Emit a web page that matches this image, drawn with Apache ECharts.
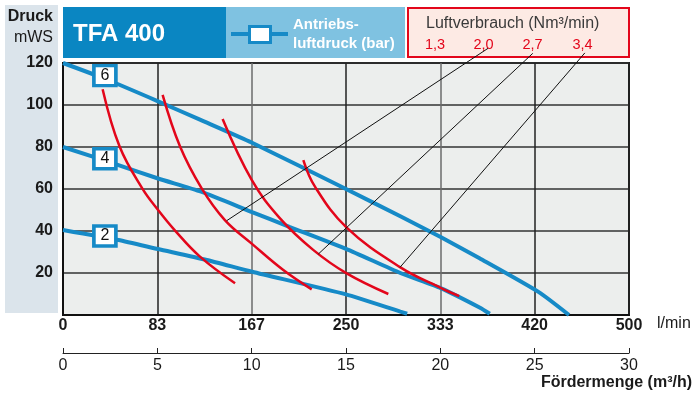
<!DOCTYPE html>
<html>
<head>
<meta charset="utf-8">
<script src="https://cdn.jsdelivr.net/npm/echarts@6/dist/echarts.min.js"></script>
<style>
html,body{margin:0;padding:0;background:#fff;}
#c{width:694px;height:394px;}
</style>
</head>
<body>
<div id="c"></div>
<script>
// ---- data ----
const flowTickLabels = ['0', '83', '167', '250', '333', '420', '500'];
const flowMax = 500;
const m3hMax = 30;
const pressureMax = 120;

// pump curves (l/min, mWS) by drive air pressure
const bar6 = [[0,120],[37,112.5],[83,102],[121,93],[167,82],[250,60],[298,47],[334,37],[368,27],[420,11],[447,0]];
const bar4 = [[0,80],[49,71.4],[84,65],[122,58.7],[167,49],[200,42],[250,31.5],[298,20],[334,12.7],[368,3.6],[377,0.6]];
const bar2 = [[0,40.5],[49,35.7],[84,31.4],[127,26.2],[167,20.6],[250,9.8],[298,1.6],[304,0.6]];

// air consumption curves (Nm3/min)
const air13 = [[35,107.5],[50,80.2],[70,60.3],[84,50],[99,40.2],[121,27.8],[152,15.1]];
const air20 = [[88,104.8],[103.4,80.2],[122.5,60.3],[143,45.2],[166.7,34],[194.6,21.4],[219.7,12.2]];
const air27 = [[141,93.3],[166.7,64.3],[191.7,46],[221,31],[250.6,19.8],[287.4,10]];
const air34 = [[212.3,73.8],[222.6,61.1],[250.6,41.6],[297.7,22.8],[334.5,12.7],[350,9]];

// leader lines from curves to the labels in the header
const lead20 = [[144.6,44.9],[375.5,127]];
const lead27 = [[225.5,29],[415,124.6]];
const lead34 = [[297.7,22.7],[461,124.8]];

// pressure label boxes
const barLabels = [[37,114,'6'],[37,74.4,'4'],[37,37.6,'2']];

const airLabels = ['1,3','2,0','2,7','3,4'];

// ---- chart ----
const BLUE = '#168ac7';
const RED = '#e3061b';
const FONT = '"Liberation Sans", Arial, sans-serif';
const chart = echarts.init(document.getElementById('c'), null, {renderer:'canvas'});

const airLabelX = [435, 483.5, 532.5, 582.5];

const option = {
  animation: false,
  backgroundColor: '#ffffff',
  grid: {
    left: 63, right: 65, top: 63, bottom: 79,
    show: true, backgroundColor: '#eceeed', borderColor: '#1a1a1a', borderWidth: 2
  },
  xAxis: [{
    type: 'value', min: 0, max: flowMax, interval: flowMax / 6, position: 'bottom',
    axisLine: {show: true, onZero: false, lineStyle: {color: '#111', width: 2}},
    axisTick: {show: false},
    axisLabel: {
      fontFamily: FONT, fontWeight: 'bold', fontSize: 16, color: '#1a1a1a', margin: 3,
      formatter: v => flowTickLabels[Math.round(v / (flowMax / 6))]
    },
    splitLine: {show: true, lineStyle: {color: ['#222','#222','#6b6b6b','#222','#6b6b6b','#222','#222'], width: 1.5}}
  }, {
    type: 'value', min: 0, max: m3hMax, interval: 5, position: 'bottom', offset: 38,
    axisLine: {show: true, onZero: false, lineStyle: {color: '#222', width: 1}},
    axisTick: {show: true, inside: true, length: 5, lineStyle: {color: '#222', width: 1}},
    axisLabel: {fontFamily: FONT, fontSize: 16, color: '#1a1a1a', margin: 5},
    splitLine: {show: false}
  }],
  yAxis: {
    type: 'value', min: 0, max: pressureMax, interval: 20,
    axisLine: {show: true, lineStyle: {color: '#111', width: 2}},
    axisTick: {show: false},
    axisLabel: {
      fontFamily: FONT, fontWeight: 'bold', fontSize: 16, color: '#1a1a1a', margin: 10,
      formatter: v => v === 0 ? '' : String(v)
    },
    splitLine: {show: true, lineStyle: {color: '#333', width: 1.5}}
  },
  graphic: [
    {type: 'rect', z: 0, shape: {x: 5, y: 5, width: 53, height: 308}, style: {fill: '#dbe4eb'}},
    {type: 'text', z: 1, style: {x: 53, y: 17, text: 'Druck', align: 'right', verticalAlign: 'middle',
      font: 'bold 16px ' + FONT, fill: '#1a1a1a'}},
    {type: 'text', z: 1, style: {x: 53, y: 38, text: 'mWS', align: 'right', verticalAlign: 'middle',
      font: '16px ' + FONT, fill: '#1a1a1a'}},
    {type: 'rect', z: 0, shape: {x: 63, y: 7, width: 163, height: 51}, style: {fill: '#0a86c2'}},
    {type: 'rect', z: 0, shape: {x: 226, y: 7, width: 179, height: 51}, style: {fill: '#7fc2e1'}},
    {type: 'text', z: 1, style: {x: 73, y: 34, text: 'TFA 400', verticalAlign: 'middle',
      font: 'bold 24px ' + FONT, fill: '#ffffff'}},
    {type: 'line', z: 1, shape: {x1: 231, y1: 34, x2: 288, y2: 34}, style: {stroke: BLUE, lineWidth: 4}},
    {type: 'rect', z: 2, shape: {x: 249.5, y: 26.5, width: 21, height: 16}, style: {fill: '#fff', stroke: BLUE, lineWidth: 3}},
    {type: 'text', z: 1, style: {x: 293, y: 25, text: 'Antriebs-', verticalAlign: 'middle',
      font: 'bold 15px ' + FONT, fill: '#ffffff'}},
    {type: 'text', z: 1, style: {x: 293, y: 44, text: 'luftdruck (bar)', verticalAlign: 'middle',
      font: 'bold 15px ' + FONT, fill: '#ffffff'}},
    {type: 'rect', z: 0, shape: {x: 408, y: 8, width: 221, height: 49}, style: {fill: '#fdeae4', stroke: RED, lineWidth: 2}},
    {type: 'text', z: 1, style: {x: 426, y: 24, text: 'Luftverbrauch (Nm³/min)', verticalAlign: 'middle',
      font: '16px ' + FONT, fill: '#3a3a3a'}},
    ...airLabels.map((t, i) => ({type: 'text', z: 1, style: {x: airLabelX[i], y: 45, text: t, align: 'center',
      verticalAlign: 'middle', font: '500 14.5px ' + FONT, fill: RED}})),
    {type: 'text', z: 1, style: {x: 657, y: 324, text: 'l/min', verticalAlign: 'middle',
      font: '16px ' + FONT, fill: '#1a1a1a'}},
    {type: 'text', z: 1, style: {x: 692, y: 383, text: 'Fördermenge (m³/h)', align: 'right', verticalAlign: 'middle',
      font: 'bold 16px ' + FONT, fill: '#1a1a1a'}}
  ],
  series: [
    ...[bar6, bar4, bar2].map(d => ({
      type: 'line', data: d, smooth: 0.2, showSymbol: false, silent: true, z: 3,
      lineStyle: {color: BLUE, width: 4}
    })),
    ...[air13, air20, air27, air34].map(d => ({
      type: 'line', data: d, smooth: 0.4, showSymbol: false, silent: true, z: 4,
      lineStyle: {color: RED, width: 2.5}
    })),
    ...[lead20, lead27, lead34].map(d => ({
      type: 'line', data: d, showSymbol: false, silent: true, clip: false, z: 5,
      lineStyle: {color: '#111', width: 1}
    })),
    {
      type: 'scatter', z: 6, silent: true,
      data: barLabels.map(b => ({value: [b[0], b[1]], name: b[2]})),
      symbol: 'rect', symbolSize: [22, 20],
      itemStyle: {color: '#ffffff', borderColor: BLUE, borderWidth: 3.5, opacity: 1},
      label: {show: true, position: 'inside', formatter: p => p.name,
        fontFamily: FONT, fontSize: 16, color: '#111'}
    }
  ]
};
chart.setOption(option);
</script>
</body>
</html>
